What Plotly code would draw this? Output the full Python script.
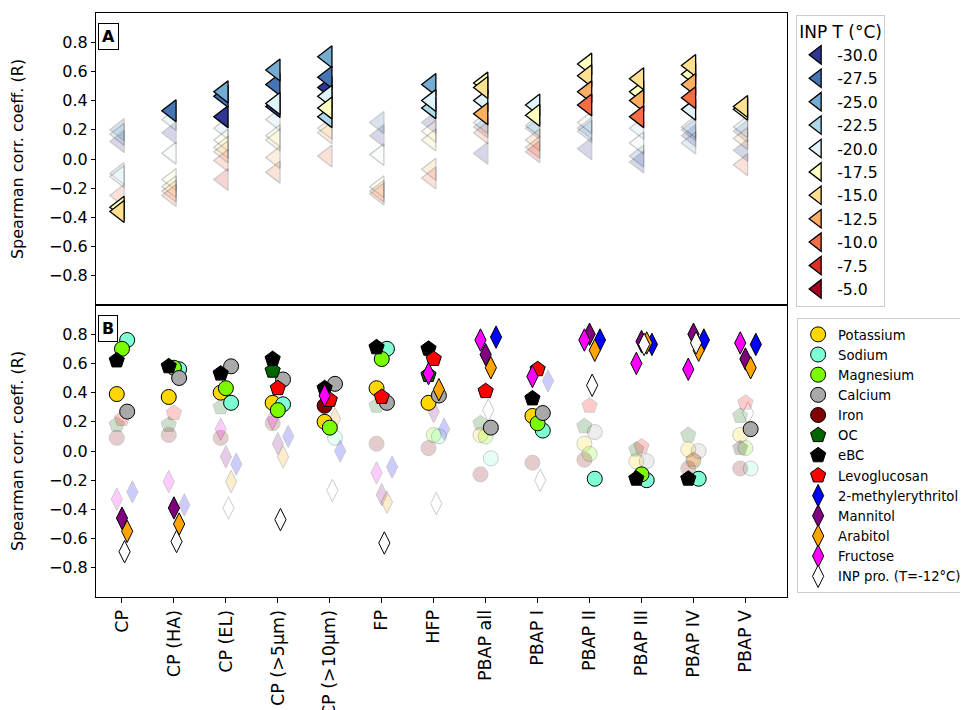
import plotly.graph_objects as go
from plotly.subplots import make_subplots

# %% categories (shared x axis)
categories = ["CP", "CP (HA)", "CP (EL)", "CP (>5µm)", "CP (>10µm)", "FP", "HFP",
              "PBAP all", "PBAP I", "PBAP II", "PBAP III", "PBAP IV", "PBAP V"]

# %% panel A: Spearman R between INP concentration and particle class, per INP temperature
inp_temps = [-30.0, -27.5, -25.0, -22.5, -20.0, -17.5, -15.0, -12.5, -10.0, -7.5, -5.0]

r_m300 = [0.12, 0.18, 0.29, 0.36, 0.49, 0.16, 0.25, 0.04, None, 0.07, -0.02, 0.16, 0.06]
r_m275 = [0.20, 0.33, 0.43, 0.51, 0.56, 0.25, None, 0.22, 0.21, 0.21, 0.02, 0.20, 0.19]
r_m250 = [0.17, None, 0.46, 0.61, 0.70, None, 0.51, None, None, 0.19, None, 0.11, None]
r_m225 = [-0.10, 0.27, 0.21, 0.27, 0.29, None, 0.35, 0.25, 0.23, None, 0.21, 0.22, 0.22]
r_m200 = [-0.12, 0.04, None, 0.38, 0.43, 0.03, 0.40, 0.40, 0.37, 0.25, 0.11, 0.34, None]
r_m175 = [-0.33, -0.14, 0.13, 0.16, 0.35, -0.19, 0.19, 0.52, 0.30, 0.65, 0.46, 0.58, 0.34]
r_m150 = [-0.36, -0.19, 0.08, 0.13, 0.21, None, 0.13, 0.49, None, 0.57, 0.55, 0.64, 0.36]
r_m125 = [None, -0.22, 0.05, 0.01, 0.18, -0.22, -0.07, 0.31, 0.13, 0.46, 0.40, 0.51, 0.14]
r_m100 = [-0.25, -0.25, -0.01, -0.09, 0.02, -0.24, -0.13, 0.18, 0.08, 0.37, 0.29, 0.42, -0.04]
r_m075 = [None, None, -0.14, None, None, None, None, None, 0.05, None, None, None, None]
r_m050 = [None] * 13

# 1 = significant (drawn opaque), 0 = not significant (faded)
sig_m300 = [0, 0, 1, 1, 1, 0, 0, 0, 0, 0, 0, 0, 0]
sig_m275 = [0, 1, 1, 1, 1, 0, 0, 0, 0, 0, 0, 0, 0]
sig_m250 = [0, 0, 1, 1, 1, 0, 1, 0, 0, 0, 0, 0, 0]
sig_m225 = [0, 0, 0, 0, 1, 0, 1, 0, 0, 0, 0, 0, 0]
sig_m200 = [0, 0, 0, 1, 1, 0, 1, 1, 1, 0, 0, 1, 0]
sig_m175 = [1, 0, 0, 0, 1, 0, 0, 1, 1, 1, 1, 1, 1]
sig_m150 = [1, 0, 0, 0, 0, 0, 0, 1, 0, 1, 1, 1, 1]
sig_m125 = [0, 0, 0, 0, 0, 0, 0, 1, 0, 1, 1, 1, 0]
sig_m100 = [0, 0, 0, 0, 0, 0, 0, 0, 0, 1, 1, 1, 0]
sig_m075 = [0] * 13
sig_m050 = [0] * 13

# %% panel B: Spearman R between particle class and chemical tracers
species = ["Potassium", "Sodium", "Magnesium", "Calcium", "Iron", "OC", "eBC",
           "Levoglucosan", "2-methylerythritol", "Mannitol", "Arabitol", "Fructose",
           "INP pro. (T=-12°C)"]

r_potassium = [0.39, 0.37, 0.40, 0.33, 0.20, 0.43, 0.33, 0.11, 0.24, 0.05, -0.07, 0.01, 0.11]
r_sodium = [0.76, 0.56, 0.33, 0.32, 0.09, 0.70, 0.10, -0.05, 0.14, -0.19, -0.20, -0.19, -0.12]
r_magnesium = [0.70, 0.57, 0.43, 0.28, 0.16, 0.63, 0.11, 0.10, 0.19, -0.02, -0.16, -0.07, 0.02]
r_calcium = [0.27, 0.50, 0.58, 0.49, 0.46, 0.33, 0.38, 0.16, 0.26, 0.13, -0.07, 0.00, 0.15]
r_iron = [0.09, 0.11, 0.09, 0.19, 0.31, 0.05, 0.02, -0.16, -0.08, -0.06, None, -0.12, -0.12]
r_oc = [0.18, 0.18, 0.30, 0.55, None, 0.31, 0.52, 0.19, None, 0.17, 0.01, 0.11, 0.24]
r_ebc = [0.62, 0.58, 0.53, 0.63, 0.43, 0.71, 0.70, None, 0.36, None, -0.19, -0.19, 0.02]
r_levoglucosan = [0.22, 0.26, None, 0.43, 0.35, 0.37, 0.63, 0.41, 0.56, 0.31, 0.03, -0.06, 0.33]
r_methylerythritol = [-0.28, -0.37, -0.09, 0.10, 0.00, -0.11, 0.15, 0.78, 0.48, 0.76, 0.73, 0.76, 0.73]
r_mannitol = [-0.46, -0.39, -0.04, 0.05, None, -0.30, 0.27, 0.66, None, 0.80, 0.75, 0.80, 0.63]
r_arabitol = [-0.55, -0.50, -0.21, -0.04, 0.22, -0.35, 0.42, 0.57, None, 0.69, 0.74, 0.69, 0.57]
r_fructose = [-0.33, -0.21, 0.15, 0.22, 0.38, -0.15, 0.53, 0.76, 0.51, 0.76, 0.60, 0.56, 0.74]
r_inp_pro = [-0.69, -0.62, -0.39, -0.47, -0.27, -0.63, -0.36, 0.28, -0.20, 0.45, 0.73, 0.74, 0.26]

sig_potassium = [1, 1, 1, 1, 1, 1, 1, 0, 1, 0, 0, 0, 0]
sig_sodium = [1, 1, 1, 1, 0, 1, 0, 0, 1, 1, 1, 1, 0]
sig_magnesium = [1, 1, 1, 1, 1, 1, 0, 0, 1, 0, 1, 0, 0]
sig_calcium = [1, 1, 1, 1, 1, 1, 1, 1, 1, 0, 0, 0, 1]
sig_iron = [0, 0, 0, 0, 1, 0, 0, 0, 0, 0, 0, 0, 0]
sig_oc = [0, 0, 0, 1, 0, 0, 1, 0, 0, 0, 0, 0, 0]
sig_ebc = [1, 1, 1, 1, 1, 1, 1, 0, 1, 0, 1, 1, 0]
sig_levoglucosan = [0, 0, 0, 1, 1, 1, 1, 1, 1, 0, 0, 0, 0]
sig_methylerythritol = [0, 0, 0, 0, 0, 0, 0, 1, 0, 1, 1, 1, 1]
sig_mannitol = [1, 1, 0, 0, 0, 0, 0, 1, 0, 1, 1, 1, 1]
sig_arabitol = [1, 1, 0, 0, 0, 0, 1, 1, 0, 1, 1, 1, 1]
sig_fructose = [0, 0, 0, 0, 1, 0, 1, 1, 1, 1, 1, 1, 1]
sig_inp_pro = [1, 1, 0, 1, 0, 1, 0, 0, 0, 1, 1, 1, 0]

# %% styles
temp_colors = ["#313695", "#4575b4", "#74add1", "#abd9e9", "#e0f3f8", "#ffffbf",
               "#fee090", "#fdae61", "#f46d43", "#d73027", "#a50026"]
# (color, symbol, x offset)
species_style = [
    ("#FFD700", "circle", -0.1),
    ("#7FFFD4", "circle", 0.1),
    ("#7CFC00", "circle", 0.0),
    ("#A9A9A9", "circle", 0.1),
    ("#800000", "circle", -0.1),
    ("#006400", "pentagon", -0.1),
    ("#000000", "pentagon", -0.1),
    ("#FF0000", "pentagon", 0.0),
    ("#0000FF", "diamond-tall", 0.2),
    ("#800080", "diamond-tall", 0.0),
    ("#FFA500", "diamond-tall", 0.1),
    ("#FF00FF", "diamond-tall", -0.1),
    ("#FFFFFF", "diamond-tall", 0.05),
]
marker_size = {"circle": 15, "pentagon": 16, "diamond-tall": 16}
tri_offset = -0.05
faded = 0.2
font = "DejaVu Sans"

temp_r = [r_m300, r_m275, r_m250, r_m225, r_m200, r_m175, r_m150, r_m125, r_m100, r_m075, r_m050]
temp_sig = [sig_m300, sig_m275, sig_m250, sig_m225, sig_m200, sig_m175, sig_m150, sig_m125,
            sig_m100, sig_m075, sig_m050]
spec_r = [r_potassium, r_sodium, r_magnesium, r_calcium, r_iron, r_oc, r_ebc, r_levoglucosan,
          r_methylerythritol, r_mannitol, r_arabitol, r_fructose, r_inp_pro]
spec_sig = [sig_potassium, sig_sodium, sig_magnesium, sig_calcium, sig_iron, sig_oc, sig_ebc,
            sig_levoglucosan, sig_methylerythritol, sig_mannitol, sig_arabitol, sig_fructose,
            sig_inp_pro]


def split(vals, sig, offset=0.0):
    xs, ys, xf, yf = [], [], [], []
    for i, (v, s) in enumerate(zip(vals, sig)):
        if v is None:
            continue
        if s:
            xs.append(i + offset)
            ys.append(v)
        else:
            xf.append(i + offset)
            yf.append(v)
    return xs or [None], ys or [None], xf, yf


fig = make_subplots(rows=2, cols=1, shared_xaxes=True, vertical_spacing=0)

# %% panel A traces: faded first, then significant
a_parts = [split(r, s, tri_offset) for r, s in zip(temp_r, temp_sig)]
for t, col, (xs, ys, xf, yf) in zip(inp_temps, temp_colors, a_parts):
    fig.add_trace(go.Scatter(x=xf, y=yf, mode="markers", showlegend=False, legend="legend",
                             marker=dict(symbol="triangle-left", size=19, color=col, opacity=faded,
                                         line=dict(color="black", width=1.3))), row=1, col=1)
for t, col, (xs, ys, xf, yf) in zip(inp_temps, temp_colors, a_parts):
    fig.add_trace(go.Scatter(x=xs, y=ys, mode="markers", name=f"{t:.1f}", legend="legend",
                             marker=dict(symbol="triangle-left", size=19, color=col,
                                         line=dict(color="black", width=1.3))), row=1, col=1)

# %% panel B traces
b_parts = [split(r, s, st[2]) for r, s, st in zip(spec_r, spec_sig, species_style)]
for name, (col, sym, off), (xs, ys, xf, yf) in zip(species, species_style, b_parts):
    fig.add_trace(go.Scatter(x=xf, y=yf, mode="markers", showlegend=False, legend="legend2",
                             marker=dict(symbol=sym, size=marker_size[sym], color=col, opacity=faded,
                                         line=dict(color="black", width=1))), row=2, col=1)
for name, (col, sym, off), (xs, ys, xf, yf) in zip(species, species_style, b_parts):
    fig.add_trace(go.Scatter(x=xs, y=ys, mode="markers", name=name, legend="legend2",
                             marker=dict(symbol=sym, size=marker_size[sym], color=col,
                                         line=dict(color="black", width=1))), row=2, col=1)

# %% axes
axis_common = dict(showline=True, mirror=True, linecolor="black", linewidth=1,
                   showgrid=False, zeroline=False, automargin=False)
yticks = [-0.8, -0.6, -0.4, -0.2, 0.0, 0.2, 0.4, 0.6, 0.8]
for row in (1, 2):
    fig.update_yaxes(range=[-1, 1], tickvals=yticks, tickformat=".1f",
                     ticks="outside", ticklen=4, tickcolor="black",
                     tickfont=dict(size=16, family=font, color="black"),
                     title=dict(text="Spearman corr. coeff. (R)", standoff=22,
                                font=dict(size=16, family=font, color="black")),
                     row=row, col=1, **axis_common)
fig.update_xaxes(range=[-0.5, 12.8], tickvals=list(range(len(categories))), ticktext=categories,
                 **axis_common)
fig.update_xaxes(showticklabels=False, ticks="", row=1, col=1)
fig.update_xaxes(ticks="outside", ticklen=5, tickcolor="black", tickangle=-90,
                 tickfont=dict(size=17.5, family=font, color="black"), row=2, col=1)

# %% panel letters
for label, ypos in (("A", 0.983), ("B", 0.483)):
    fig.add_annotation(text=f"<b>{label}</b>", xref="paper", yref="paper", x=0.003, y=ypos,
                       xanchor="left", yanchor="top", showarrow=False,
                       font=dict(size=16, family=font, color="black"),
                       bordercolor="black", borderwidth=1, borderpad=3, bgcolor="white")

# page body keeps its default 8 px margin, so the figure is 8 px smaller than the window
fig.update_layout(
    width=960, height=702,
    margin=dict(l=88, r=181, t=5, b=113),
    plot_bgcolor="white", paper_bgcolor="white",
    font=dict(family=font, color="black"),
    legend=dict(title=dict(text="INP T (°C)", font=dict(size=17, family=font)),
                xref="container", yref="container", x=0.821, y=0.990,
                xanchor="left", yanchor="top",
                font=dict(size=15.7, family=font), bgcolor="white",
                bordercolor="#cccccc", borderwidth=1),
    legend2=dict(xref="container", yref="container", x=0.822, y=0.558,
                 xanchor="left", yanchor="top",
                 font=dict(size=13.2, family=font), bgcolor="white",
                 bordercolor="#cccccc", borderwidth=1),
)

fig.write_html("out.html")
